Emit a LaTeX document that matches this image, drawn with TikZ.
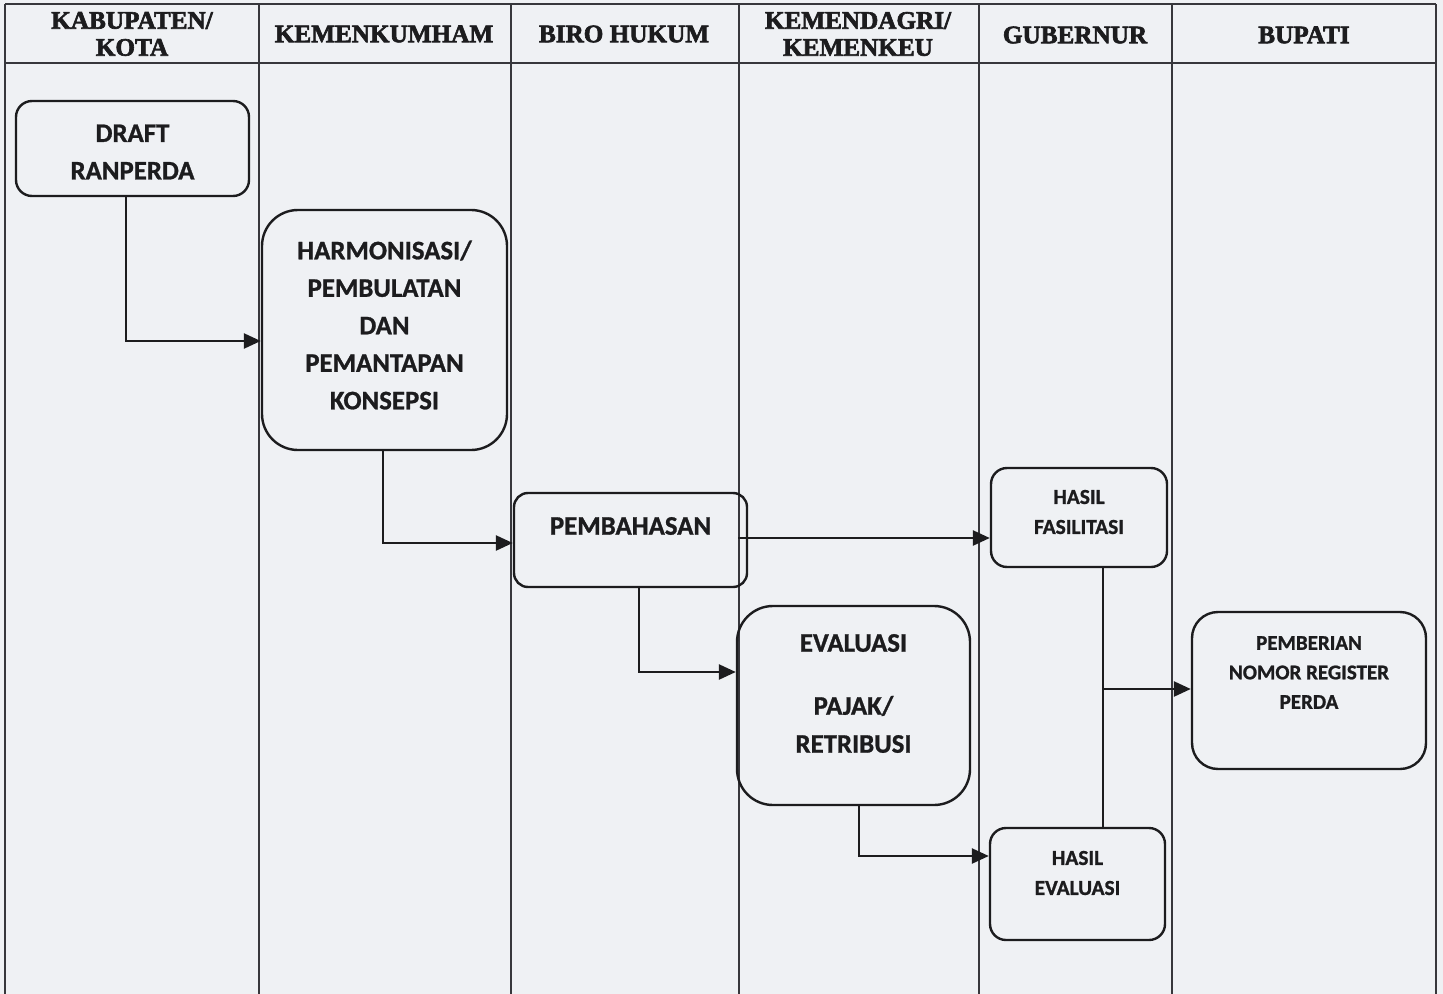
\documentclass[tikz,border=0pt]{standalone}
\usepackage{fontspec}
\setmainfont{Carlito}[BoldFeatures={FakeBold=1}]
\newfontfamily\headfont{Liberation Serif}[BoldFeatures={FakeBold=2.5}]
\usetikzlibrary{arrows.meta}
\definecolor{paper}{RGB}{239,241,244}
\definecolor{ink}{RGB}{28,28,30}
\definecolor{rule}{RGB}{55,55,60}
\tikzset{
  lane/.style={draw=rule, line width=0.8pt},
  procbox/.style={draw=ink, line width=1.2pt, rectangle, inner sep=0pt},
  boxtext/.style={font=\bfseries\fontsize{13.4}{18.75}\selectfont, text=ink, align=center, inner sep=0pt},
  smalltext/.style={font=\bfseries\fontsize{10.7}{15}\selectfont, text=ink, align=center, inner sep=0pt},
  headtext/.style={font=\headfont\bfseries\fontsize{12.6}{13.5}\selectfont, text=ink, align=center, inner sep=0pt},
  flow/.style={draw=ink, line width=1.3pt, -{Triangle[length=8.5pt,width=7.5pt]}},
  plain/.style={draw=ink, line width=1.3pt}
}
\begin{document}
\begin{tikzpicture}[x=0.5pt,y=-0.5pt]
  % page and lane grid
  \fill[paper] (0,0) rectangle (1443,994);
  \useasboundingbox (0,0) rectangle (1443,994);
  \draw[lane] (5,4) -- (1436,4);
  \draw[lane] (5,63) -- (1436,63);
  \foreach \xx in {5,259,511,739,979,1172,1436}
    \draw[lane] (\xx,4) -- (\xx,994);

  % lane headings
  \node[headtext] (hkab) at (132,34) {KABUPATEN/\\KOTA};
  \node[headtext] (hkum) at (384,34) {KEMENKUMHAM};
  \node[headtext] (hbiro) at (624,34) {BIRO HUKUM};
  \node[headtext] (hdagri) at (858,34) {KEMENDAGRI/\\KEMENKEU};
  \node[headtext] (hgub) at (1075,35) {GUBERNUR};
  \node[headtext] (hbup) at (1304,35) {BUPATI};

  % process boxes
  \node[procbox, minimum width=116.5pt, minimum height=47.5pt, rounded corners=8pt] (draft) at (132.5,148.5) {};
  \node[boxtext] (drafttxt) at (132.5,152) {DRAFT\\RANPERDA};

  \node[procbox, minimum width=122.5pt, minimum height=120pt, rounded corners=18pt] (harm) at (384.5,330) {};
  \node[boxtext] (harmtxt) at (384.5,325) {HARMONISASI/\\PEMBULATAN\\DAN\\PEMANTAPAN\\KONSEPSI};

  \node[procbox, minimum width=116.5pt, minimum height=47pt, rounded corners=7pt] (pemb) at (630.5,540) {};
  \node[boxtext] (pembtxt) at (630.5,526) {PEMBAHASAN};

  \node[procbox, minimum width=116.5pt, minimum height=99.5pt, rounded corners=18pt] (eval) at (853.5,705.5) {};
  \node[boxtext, font=\bfseries\fontsize{13.4}{19}\selectfont] (evaltxt) at (853.5,693.5) {EVALUASI\\[12.5pt]PAJAK/\\RETRIBUSI};

  \node[procbox, minimum width=88pt, minimum height=49.5pt, rounded corners=8pt] (fasil) at (1079,517.5) {};
  \node[smalltext] (fasiltxt) at (1079,512) {HASIL\\FASILITASI};

  \node[procbox, minimum width=87.5pt, minimum height=56pt, rounded corners=8pt] (hasev) at (1077.5,884) {};
  \node[smalltext] (hasevtxt) at (1077.5,873) {HASIL\\EVALUASI};

  \node[procbox, minimum width=117pt, minimum height=78.5pt, rounded corners=13pt] (nomor) at (1309,690.5) {};
  \node[smalltext, font=\bfseries\fontsize{10.5}{14.75}\selectfont] (nomortxt) at (1309,672.5) {PEMBERIAN\\NOMOR REGISTER\\PERDA};

  % connectors
  \draw[flow] ([xshift=-3.25pt]draft.south) |- ([yshift=-5.5pt]harm.west);
  \draw[flow] ([xshift=-0.75pt]harm.south) |- ([yshift=-1.5pt]pemb.west);
  \draw[flow] ([xshift=-5pt,yshift=1pt]pemb.east) -- ([yshift=-10.25pt]fasil.west);
  \draw[flow] ([xshift=4.25pt]pemb.south) |- ([yshift=16.75pt]eval.west);
  \draw[flow] ([xshift=2.75pt]eval.south) |- ([yshift=14pt]hasev.west);
  \draw[plain] ([xshift=12pt]fasil.south) -- ([xshift=12pt]fasil.south |- hasev.north);
  \coordinate (join) at (1103,689);
  \draw[flow] (join) -- (join -| nomor.west);
\end{tikzpicture}
\end{document}
